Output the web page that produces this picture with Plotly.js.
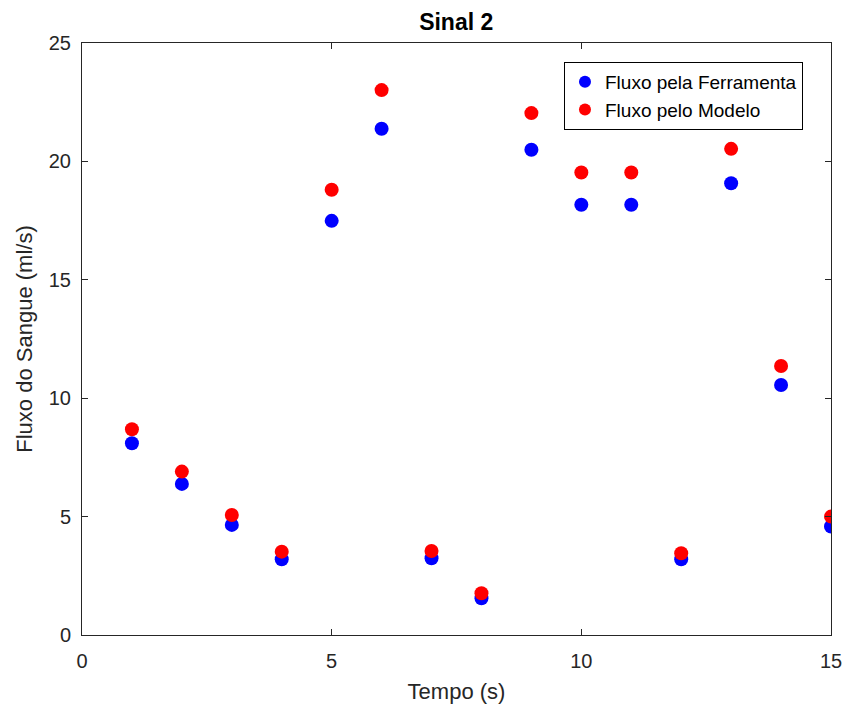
<!DOCTYPE html>
<html>
<head>
<meta charset="utf-8">
<script src="https://cdn.plot.ly/plotly-3.0.1.min.js"></script>
<style>html,body{margin:0;padding:0;background:#fff;}#chart{width:848px;height:716px;}</style>
</head>
<body>
<div id="chart"></div>
<script>
const tempo = [1, 2, 3, 4, 5, 6, 7, 8, 9, 10, 11, 12, 13, 14, 15];
const fluxoFerramenta = [8.10, 6.38, 4.65, 3.20, 17.49, 21.38, 3.24, 1.55, 20.49, 18.17, 18.17, 3.20, 19.08, 10.56, 4.58];
const fluxoModelo = [8.69, 6.90, 5.07, 3.52, 18.80, 23.01, 3.55, 1.76, 22.04, 19.53, 19.53, 3.45, 20.53, 11.36, 5.00];
const nomes = ['Fluxo pela Ferramenta', 'Fluxo pelo Modelo'];
const xTickVals = [0, 5, 10, 15];
const yTickVals = [0, 5, 10, 15, 20, 25];

const font = 'Liberation Sans, Arial, Helvetica, sans-serif';
const axisColor = '#262626';

const traces = [
  {x: tempo, y: fluxoFerramenta, name: nomes[0], type: 'scatter', mode: 'markers',
   marker: {color: '#0000ff', size: 14}},
  {x: tempo, y: fluxoModelo, name: nomes[1], type: 'scatter', mode: 'markers',
   marker: {color: '#ff0000', size: 14}}
];

const axisCommon = {
  showline: true, linecolor: axisColor, linewidth: 1, mirror: 'ticks',
  ticks: 'inside', ticklen: 6, tickcolor: axisColor, tickwidth: 1,
  showgrid: false, zeroline: false,
  tickfont: {family: font, size: 20, color: axisColor}
};

const layout = {
  width: 848, height: 716,
  margin: {l: 82, r: 17, t: 43, b: 81},
  paper_bgcolor: '#fff', plot_bgcolor: '#fff',
  title: {text: '<b>Sinal 2</b>', font: {family: font, size: 23, color: '#000'},
          x: 0.538, xanchor: 'center', y: 0.969, yanchor: 'middle'},
  xaxis: Object.assign({}, axisCommon, {
    range: [0, 15], tickvals: xTickVals, ticklabelstandoff: 8,
    title: {text: 'Tempo (s)', font: {family: font, size: 22, color: axisColor}, standoff: 12}
  }),
  yaxis: Object.assign({}, axisCommon, {
    range: [0, 25], tickvals: yTickVals, ticklabelstandoff: 6,
    title: {text: 'Fluxo do Sangue (ml/s)', font: {family: font, size: 22, color: axisColor}, standoff: 10}
  }),
  legend: {
    x: 0.6435, y: 0.968, xanchor: 'left', yanchor: 'top',
    bgcolor: '#fff', bordercolor: '#000', borderwidth: 1,
    font: {family: font, size: 19, color: '#000'},
    itemsizing: 'constant', tracegroupgap: 0
  },
  showlegend: true
};

Plotly.newPlot('chart', traces, layout, {displayModeBar: false, staticPlot: true});
</script>
</body>
</html>
